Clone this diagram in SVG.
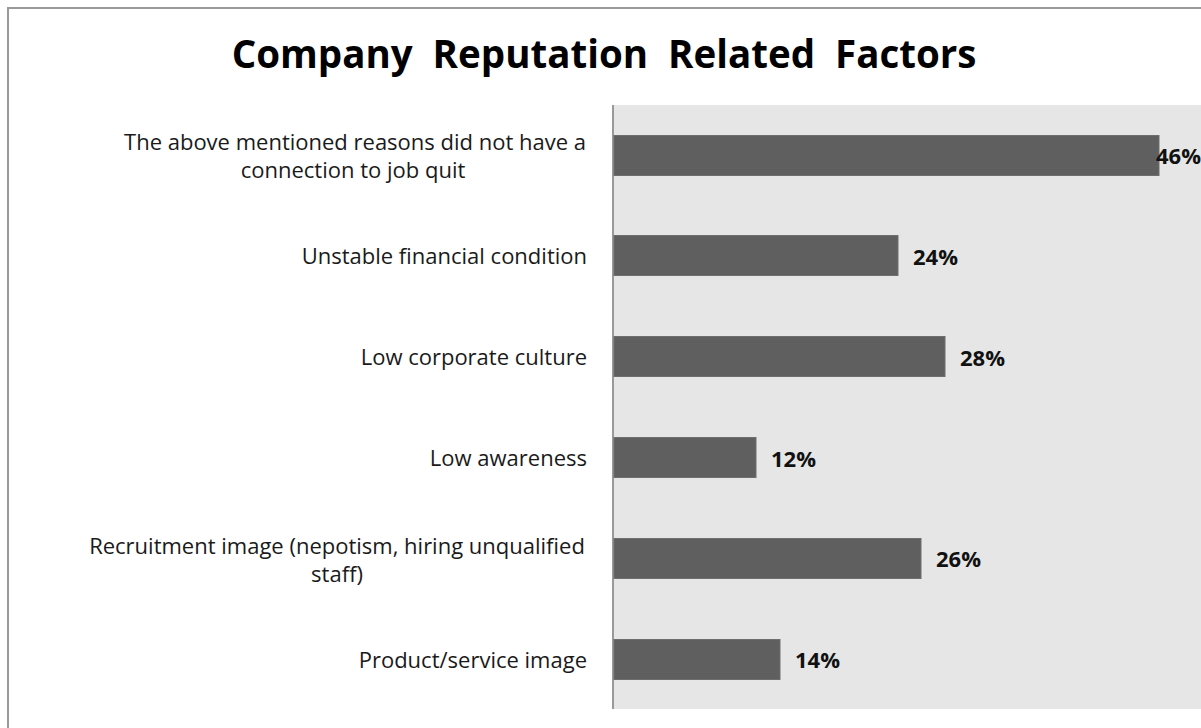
<svg xmlns="http://www.w3.org/2000/svg" width="1201" height="728" viewBox="0 0 1201 728">
<style>
.lbl{font-family:"Open Sans","Liberation Sans",sans-serif;font-size:22px;fill:#1a1a1a;text-anchor:end}
.mid{text-anchor:middle}
.val{font-family:"Open Sans","Liberation Sans",sans-serif;font-size:22px;font-weight:bold;fill:#111}
.bar{fill:#5f5f5f;stroke:#6e6e6e;stroke-width:1}
.title{font-family:"Open Sans","Liberation Sans",sans-serif;font-size:38.5px;font-weight:bold;fill:#000;text-anchor:middle}
</style>
<rect x="0" y="0" width="1201" height="728" fill="#fff"/>
<path d="M8,728 V8 H1201" fill="none" stroke="#999" stroke-width="2"/>
<text class="title" x="604" y="68" xml:space="preserve">Company  Reputation  Related  Factors</text>
<rect x="613" y="105" width="588" height="604" fill="#e6e6e6"/>
<line x1="613" y1="105" x2="613" y2="709" stroke="#999" stroke-width="2"/>
<g id="cat1">
<rect class="bar" x="614" y="135.5" width="545" height="40"/>
<text class="lbl mid" x="355" y="150">The above mentioned reasons did not have a</text>
<text class="lbl mid" x="353" y="178">connection to job quit</text>
<text class="val" x="1156" y="164">46%</text>
</g>
<g id="cat2">
<rect class="bar" x="614" y="235.5" width="284" height="40"/>
<text class="lbl" x="587" y="264">Unstable financial condition</text>
<text class="val" x="913" y="265">24%</text>
</g>
<g id="cat3">
<rect class="bar" x="614" y="336.5" width="331" height="40"/>
<text class="lbl" x="587" y="365">Low corporate culture</text>
<text class="val" x="960" y="366">28%</text>
</g>
<g id="cat4">
<rect class="bar" x="614" y="437.5" width="142" height="40"/>
<text class="lbl" x="587" y="466">Low awareness</text>
<text class="val" x="771" y="467">12%</text>
</g>
<g id="cat5">
<rect class="bar" x="614" y="538.5" width="307" height="40"/>
<text class="lbl mid" x="337" y="554">Recruitment image (nepotism, hiring unqualified</text>
<text class="lbl mid" x="337" y="582">staff)</text>
<text class="val" x="936" y="567">26%</text>
</g>
<g id="cat6">
<rect class="bar" x="614" y="639.5" width="166" height="40"/>
<text class="lbl" x="587" y="668">Product/service image</text>
<text class="val" x="795" y="668">14%</text>
</g>
</svg>
